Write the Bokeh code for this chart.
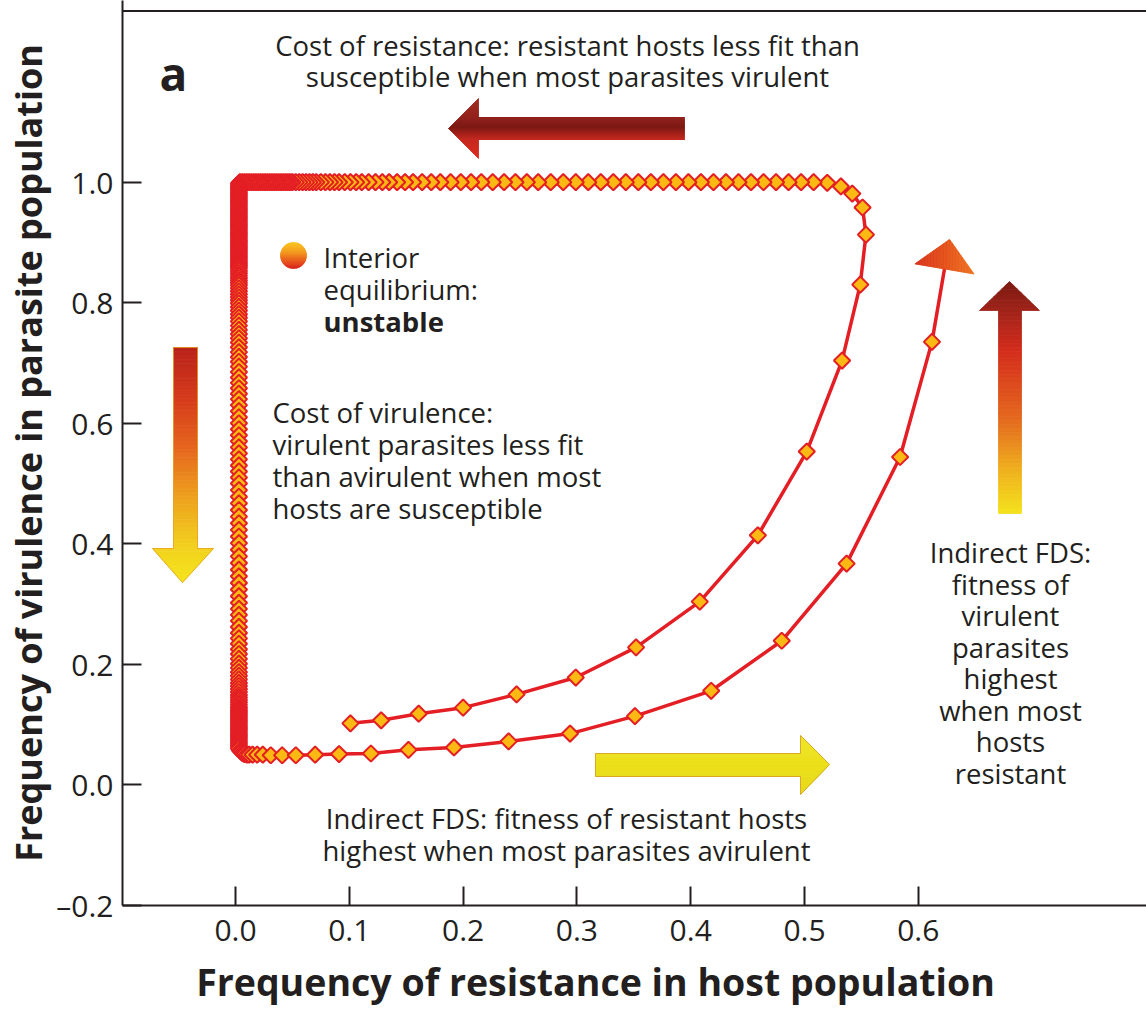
import math
from bokeh.plotting import figure
from bokeh.models import Label, Span, FixedTicker, Range1d
from bokeh.embed import file_html
from bokeh.resources import INLINE

# ------------------------------------------------------------------ data
# trajectory, first part: from the start point up to the top-right corner
start_x = [0.101, 0.128, 0.161, 0.200, 0.247, 0.299, 0.352, 0.408, 0.459, 0.502,
           0.533, 0.549, 0.554, 0.551, 0.542, 0.532, 0.520]
start_y = [0.102, 0.107, 0.118, 0.128, 0.150, 0.178, 0.228, 0.304, 0.414, 0.553,
           0.704, 0.830, 0.913, 0.958, 0.981, 0.993, 0.999]

# top row (virulence frequency stays at ~1.0 while resistance falls)
top_row_level = 1.0
top_x = [0.508, 0.497, 0.486, 0.475, 0.464, 0.453, 0.442, 0.431, 0.420, 0.409,
         0.398, 0.387, 0.376, 0.365, 0.354, 0.343, 0.332, 0.321, 0.310, 0.299,
         0.288, 0.277, 0.266, 0.256, 0.246, 0.236, 0.226, 0.216, 0.207, 0.198,
         0.189, 0.180, 0.172, 0.164, 0.156, 0.149, 0.142, 0.135, 0.129, 0.123,
         0.117, 0.111, 0.106, 0.101, 0.096, 0.091, 0.087, 0.083, 0.079, 0.075,
         0.071, 0.068, 0.065, 0.062, 0.059, 0.056, 0.053, 0.050, 0.048, 0.046,
         0.044, 0.042, 0.040, 0.038, 0.036, 0.034, 0.032, 0.030, 0.028, 0.026,
         0.024, 0.022, 0.020, 0.018, 0.016, 0.014, 0.012, 0.010, 0.008, 0.006,
         0.004]

# left column (resistance stays at ~0 while virulence falls)
column_level = 0.003
col_y = [0.998, 0.995, 0.992, 0.989, 0.986, 0.983, 0.980, 0.977, 0.974, 0.971,
         0.968, 0.965, 0.962, 0.959, 0.956, 0.953, 0.950, 0.947, 0.944, 0.941,
         0.938, 0.935, 0.932, 0.929, 0.926, 0.923, 0.920, 0.917, 0.914, 0.911,
         0.908, 0.905, 0.902, 0.899, 0.896, 0.893, 0.890, 0.887, 0.884, 0.881,
         0.878, 0.875, 0.872, 0.869, 0.866, 0.863, 0.860, 0.857, 0.853, 0.849,
         0.845, 0.841, 0.837, 0.833, 0.829, 0.824, 0.819, 0.814, 0.809, 0.804,
         0.799, 0.793, 0.787, 0.781, 0.775, 0.769, 0.762, 0.755, 0.748, 0.741,
         0.734, 0.726, 0.718, 0.710, 0.702, 0.694, 0.685, 0.676, 0.667, 0.658,
         0.649, 0.640, 0.630, 0.620, 0.610, 0.600, 0.590, 0.580, 0.570, 0.560,
         0.550, 0.540, 0.530, 0.520, 0.510, 0.500, 0.489, 0.478, 0.467, 0.456,
         0.445, 0.434, 0.423, 0.412, 0.401, 0.390, 0.379, 0.368, 0.357, 0.346,
         0.335, 0.324, 0.313, 0.302, 0.292, 0.282, 0.272, 0.262, 0.252, 0.243,
         0.234, 0.225, 0.217, 0.209, 0.201, 0.194, 0.187, 0.181, 0.175, 0.169,
         0.164, 0.159, 0.154, 0.149, 0.145, 0.141, 0.137, 0.133, 0.129, 0.126,
         0.123, 0.120, 0.117, 0.114, 0.111, 0.108, 0.105, 0.102, 0.099, 0.096,
         0.093, 0.090, 0.087, 0.084, 0.081, 0.078, 0.075, 0.072, 0.069, 0.066,
         0.063, 0.060]

# bottom corner and the outer rising branch
bot_x = [0.004, 0.005, 0.006, 0.007, 0.008, 0.010, 0.012, 0.015, 0.019, 0.024,
         0.031, 0.041, 0.053, 0.070, 0.091, 0.119, 0.152, 0.192, 0.240, 0.294,
         0.351, 0.418, 0.480, 0.537, 0.584, 0.612]
bot_y = [0.057, 0.055, 0.053, 0.052, 0.051, 0.050, 0.050, 0.050, 0.050, 0.050,
         0.049, 0.049, 0.049, 0.050, 0.051, 0.052, 0.058, 0.062, 0.072, 0.085,
         0.114, 0.156, 0.239, 0.367, 0.544, 0.735]

# where the curve ends (base of the arrow head)
end_x = [0.623]
end_y = [0.856]

x_ticks = [0.0, 0.1, 0.2, 0.3, 0.4, 0.5, 0.6]
x_tick_labels = ["0.0", "0.1", "0.2", "0.3", "0.4", "0.5", "0.6"]
y_ticks = [-0.2, 0.0, 0.2, 0.4, 0.6, 0.8, 1.0]
y_tick_labels = ["\u20130.2", "0.0", "0.2", "0.4", "0.6", "0.8", "1.0"]

x_label = "Frequency of resistance in host population"
y_label = "Frequency of virulence in parasite population"
panel_letter = "a"
top_note = ["Cost of resistance: resistant hosts less fit than",
            "susceptible when most parasites virulent"]
left_note = ["Cost of  virulence:", "virulent parasites less fit",
             "than avirulent when most", "hosts are susceptible"]
legend_note = ["Interior", "equilibrium:", "unstable"]
right_note = ["Indirect FDS:", "fitness of", "virulent", "parasites", "highest",
              "when most", "hosts", "resistant"]
bottom_note = ["Indirect FDS: fitness of resistant hosts",
               "highest when most parasites avirulent"]

# ------------------------------------------------------------------ geometry
X0PX, XPPU = 235.0, 1138.0      # picture pixel of x=0, pixels per unit
Y0PX, YPPU = 784.3, 602.6
W, H = 1146, 1012
FRAME_L, FRAME_B = 122, 905


def px2x(px):
    return (px - X0PX) / XPPU


def py2y(py):
    return (Y0PX - py) / YPPU


def x2px(x):
    return X0PX + x * XPPU


def y2px(y):
    return Y0PX - y * YPPU


X_START, X_END = px2x(FRAME_L), px2x(W)
Y_START, Y_END = py2y(FRAME_B), py2y(0)

INK = "#231f20"
RED = "#e31e24"
FONT = "Open Sans"

p = figure(width=W, height=H, output_backend="svg", toolbar_location=None,
           x_range=Range1d(X_START, X_END), y_range=Range1d(Y_START, Y_END),
           min_border_left=FRAME_L, min_border_right=0, min_border_top=0,
           min_border_bottom=H - FRAME_B, background_fill_color="white",
           border_fill_color="white", outline_line_color=None)
p.grid.visible = False

for ax, ticks, labels in ((p.xaxis, x_ticks, x_tick_labels),
                          (p.yaxis, y_ticks, y_tick_labels)):
    ax.ticker = FixedTicker(ticks=ticks)
    ax.major_label_overrides = dict(zip(ticks, labels))
    ax.major_tick_in = 19
    ax.major_tick_out = 0
    ax.minor_tick_line_color = None
    ax.axis_line_width = 2
    ax.axis_line_color = INK
    ax.major_tick_line_width = 2
    ax.major_tick_line_color = INK
    ax.major_label_text_font = FONT
    ax.major_label_text_font_size = "30px"
    ax.major_label_text_color = INK
    ax.axis_label_text_font = FONT
    ax.axis_label_text_font_style = "bold"
    ax.axis_label_text_color = INK
p.xaxis.axis_label_text_font_size = "37.5px"
p.yaxis.axis_label_text_font_size = "36px"
p.xaxis.major_label_standoff = 14
p.yaxis.major_label_standoff = 9
# trailing no-break spaces move the centred label left, as in the original
p.xaxis.axis_label = x_label + "\u00a0" * 8
p.yaxis.axis_label = y_label
p.xaxis.axis_label_standoff = 12
p.yaxis.axis_label_standoff = 0

p.add_layout(Span(location=py2y(10.5), dimension="width", line_color=INK,
                  line_width=2.2))


# ------------------------------------------------------------------ helpers
def hex2rgb(h):
    return tuple(int(h[i:i + 2], 16) for i in (1, 3, 5))


def grad_color(stops, t):
    if t <= stops[0][0]:
        return stops[0][1]
    for (p0, c0), (p1, c1) in zip(stops, stops[1:]):
        if t <= p1:
            f = (t - p0) / (p1 - p0)
            a, b = hex2rgb(c0), hex2rgb(c1)
            return "#%02x%02x%02x" % tuple(round(a[i] + (b[i] - a[i]) * f) for i in range(3))
    return stops[-1][1]


def _cut(a, b, k, v):
    t = (v - a[k]) / (b[k] - a[k])
    return (a[0] + (b[0] - a[0]) * t, a[1] + (b[1] - a[1]) * t)


def clip_half(poly, k, v, keep_greater):
    out = []
    for i in range(len(poly)):
        cur, prev = poly[i], poly[i - 1]
        cin = cur[k] >= v if keep_greater else cur[k] <= v
        pin = prev[k] >= v if keep_greater else prev[k] <= v
        if cin:
            if not pin:
                out.append(_cut(prev, cur, k, v))
            out.append(cur)
        elif pin:
            out.append(_cut(prev, cur, k, v))
    return out


def gradient_shape(poly, k, stops, n=60, outline=None, outline_width=1.0):
    lo = min(pt[k] for pt in poly)
    hi = max(pt[k] for pt in poly)
    xs, ys, cs = [], [], []
    for i in range(n):
        a = lo + (hi - lo) * i / n
        b = lo + (hi - lo) * (i + 1) / n
        piece = clip_half(clip_half(poly, k, a, True), k, b, False)
        if len(piece) < 3:
            continue
        xs.append([px2x(q[0]) for q in piece])
        ys.append([py2y(q[1]) for q in piece])
        cs.append(grad_color(stops, (a + b) / 2))
    p.patches(xs, ys, fill_color=cs, line_color=cs, line_width=0.8)
    if outline:
        p.patch([px2x(q[0]) for q in poly], [py2y(q[1]) for q in poly],
                fill_color=None, line_color=outline, line_width=outline_width)


def add_text(px, py, text, size=27.5, bold=False, align="left"):
    p.add_layout(Label(x=px2x(px), y=py2y(py), text=text, text_font=FONT,
                       text_font_size="%spx" % size,
                       text_font_style="bold" if bold else "normal",
                       text_align=align, text_baseline="middle", text_color=INK))


# ------------------------------------------------------------------ big arrows
# cost of resistance (points left)
gradient_shape([(684, 117), (478, 117), (478, 98), (448, 128), (478, 158), (478, 139), (684, 139)],
               1, [(98, "#a02a1c"), (117, "#92201a"), (127, "#7a1610"), (139, "#c2261c"), (158, "#e02a20")])
# cost of virulence (points down)
gradient_shape([(173, 347), (197, 347), (197, 548), (213, 548), (182, 582), (152, 548), (173, 548)],
               1, [(347, "#b8221a"), (400, "#d63c1c"), (450, "#e6681e"), (500, "#eea41e"),
                   (548, "#f2d21e"), (582, "#f5e41c")], outline="#e8a01e", outline_width=0.8)
# indirect FDS parasites (points up)
gradient_shape([(998, 513), (998, 310), (979, 310), (1009, 281), (1039, 310), (1021, 310), (1021, 513)],
               1, [(281, "#7a1a12"), (312, "#a2241a"), (350, "#d42c1c"), (420, "#e46a1e"),
                   (470, "#efb01e"), (513, "#f4e21c")])
# indirect FDS hosts (points right)
gradient_shape([(595, 753), (800, 753), (800, 735), (829, 764), (800, 794), (800, 776), (595, 776)],
               1, [(735, "#f1e62a"), (764, "#ebe01a"), (794, "#e6d818")],
               outline="#d8a826", outline_width=1.0)

# ------------------------------------------------------------------ trajectory
path_x = start_x + top_x + [column_level] * len(col_y) + bot_x
path_y = start_y + [top_row_level] * len(top_x) + col_y + bot_y

p.line(path_x + end_x, path_y + end_y, line_color=RED, line_width=3.5)
p.scatter(path_x, path_y, marker="square", angle=math.pi / 4, size=11.5,
          fill_color="#fdb913", line_color=RED, line_width=2)

# arrow head at the end of the trajectory
ex, ey = x2px(end_x[0]), y2px(end_y[0])
lx, ly = x2px(path_x[-1]), y2px(path_y[-1])
d = math.hypot(ex - lx, ey - ly)
ux, uy = (ex - lx) / d, (ey - ly) / d
head = [(ex + 30 * ux, ey + 30 * uy),
        (ex - 30 * uy, ey + 30 * ux),
        (ex + 30 * uy, ey - 30 * ux)]
gradient_shape(head, 0, [(min(q[0] for q in head), "#d8321c"),
                         (max(q[0] for q in head), "#ef721e")], n=40)

# ------------------------------------------------------------------ legend ball
ball = [(293 + 13 * math.cos(a * math.pi / 20), 255 + 13 * math.sin(a * math.pi / 20))
        for a in range(40)]
gradient_shape(ball, 1, [(242, "#f9c81e"), (252, "#f39a1e"), (262, "#e8501c"), (268, "#d8241c")], n=30)

# ------------------------------------------------------------------ texts
add_text(173, 72, panel_letter, size=46, bold=True, align="center")
for i, t in enumerate(top_note):
    add_text(567, 45 + 31 * i, t, align="center")
for i, t in enumerate(left_note):
    add_text(272, 412 + 32 * i, t)
for i, t in enumerate(legend_note):
    add_text(323, 257 + 32 * i, t, bold=(i == 2))
for i, t in enumerate(right_note):
    add_text(1010, 552 + 31.5 * i, t, align="center")
for i, t in enumerate(bottom_note):
    add_text(566, 818 + 32 * i, t, align="center")

open("out.html", "w").write(file_html(p, INLINE))
